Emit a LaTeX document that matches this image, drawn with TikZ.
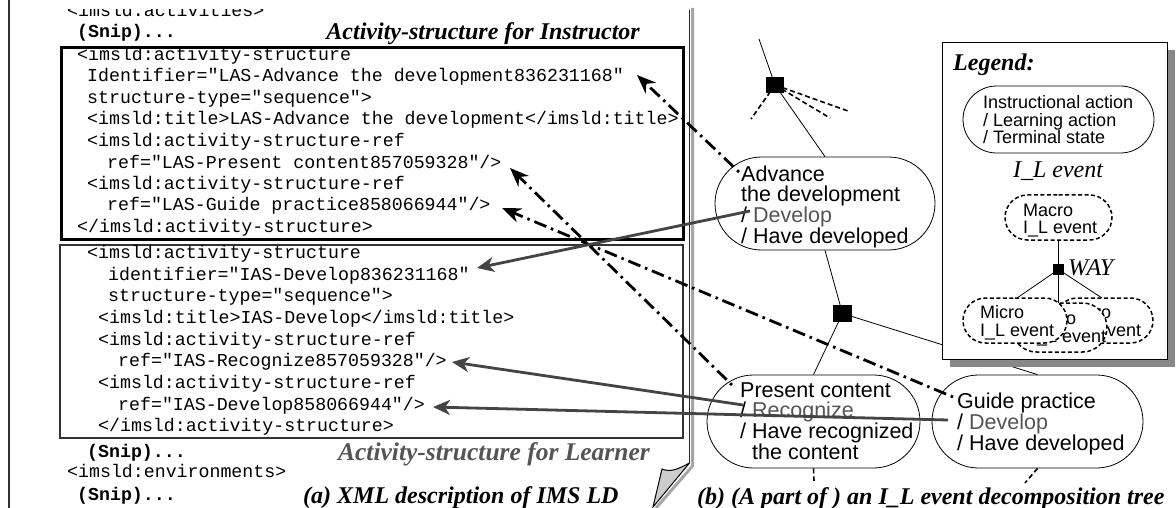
\documentclass[tikz,border=0pt]{standalone}
\usepackage{fontspec}
\setmainfont{Liberation Serif}
\setsansfont{Liberation Sans}
\newfontfamily\codefont{Liberation Mono}
\usetikzlibrary{arrows.meta,shapes.misc}
\definecolor{gtxt}{HTML}{555555}
\definecolor{gline}{HTML}{444444}
\definecolor{shadowgray}{HTML}{888888}
\definecolor{curlgray}{HTML}{CCCCCC}
\begin{document}
\begin{tikzpicture}[x=1pt,y=-1pt,
 code/.style={font=\codefont\fontsize{18.25}{21.5}\selectfont, inner sep=0, anchor=base west},
 codeb/.style={font=\codefont\bfseries\fontsize{18.25}{21.5}\selectfont, inner sep=0, anchor=base west},
 ttl/.style={font=\bfseries\itshape\fontsize{24}{28}\selectfont, inner sep=0},
 evtxt/.style={font=\sffamily\fontsize{21.5}{20}\selectfont, align=left, inner sep=0, anchor=north west},
 lgtxt/.style={font=\sffamily\fontsize{18}{17.5}\selectfont, align=left, inner sep=0, anchor=north west},
 stad/.style={rounded rectangle, draw, fill=white, line width=0.8pt, inner sep=0},
 dstad/.style={rounded rectangle, draw, fill=white, line width=1.5pt, dash pattern=on 4pt off 2.5pt, inner sep=0},
 sq/.style={rectangle, fill=black, inner sep=0},
 dd/.style={line width=2.8pt, dash pattern=on 2.5pt off 5pt on 13pt off 5pt, -{Stealth[length=19pt,width=15pt]}},
 gr/.style={line width=2.8pt, draw=gline, -{Stealth[length=17pt,width=15pt,inset=5pt]}},
 tree/.style={line width=0.8pt},
 treed/.style={line width=1.6pt, dash pattern=on 5pt off 3pt},
]
\useasboundingbox (0,0) rectangle (1176,508);
\fill[white] (0,0) rectangle (1176,508);

% ---------- left page ----------
\draw[line width=1.5pt, draw=black!80] (9,0) -- (9,508);
\draw[line width=3pt, draw=black!35] (692.5,8) -- (692.5,466) -- (656,508);
\draw[line width=1.3pt, draw=black!85] (689.5,10) -- (689.5,463);
\filldraw[fill=curlgray, draw=black, line width=1pt] (689.5,463) -- (653,507) -- (662,469) .. controls (671,473) and (680,468) .. (689.5,463);

\node[draw, line width=2.8pt, minimum width=622pt, minimum height=192pt, inner sep=0, anchor=north west] (box1) at (60,46) {};
\node[draw=black!80, line width=2.4pt, minimum width=623pt, minimum height=193pt, inner sep=0, anchor=north west] (box2) at (59,244) {};

\begin{scope}
\clip (0,9.5) rectangle (680,30);
\node[code] (l0) at (67,16.5) {<imsld:activities>};
\end{scope}
\node[codeb] (l1) at (77,38) {(Snip)...};
\node[code] (a1) at (77,60.5) {<imsld:activity-structure};
\node[code] (a2) at (87,82) {Identifier="LAS-Advance the development836231168"};
\node[code] (a3) at (87,103.5) {structure-type="sequence">};
\node[code] (a4) at (87,125) {<imsld:title>LAS-Advance the development</imsld:title>};
\node[code] (a5) at (87,146.5) {<imsld:activity-structure-ref};
\node[code] (a6) at (107,168) {ref="LAS-Present content857059328"/>};
\node[code] (a7) at (87,189.5) {<imsld:activity-structure-ref};
\node[code] (a8) at (107,211) {ref="LAS-Guide practice858066944"/>};
\node[code] (a9) at (77,232.5) {</imsld:activity-structure>};

\node[code] (b1) at (87,258.5) {<imsld:activity-structure};
\node[code] (b2) at (108,280.2) {identifier="IAS-Develop836231168"};
\node[code] (b3) at (108,301.8) {structure-type="sequence">};
\node[code] (b4) at (98,323.5) {<imsld:title>IAS-Develop</imsld:title>};
\node[code] (b5) at (98,345.1) {<imsld:activity-structure-ref};
\node[code] (b6) at (118,366.8) {ref="IAS-Recognize857059328"/>};
\node[code] (b7) at (98,388.4) {<imsld:activity-structure-ref};
\node[code] (b8) at (118,410.1) {ref="IAS-Develop858066944"/>};
\node[code] (b9) at (98,431.7) {</imsld:activity-structure>};

\node[codeb] (l2) at (87,457) {(Snip)...};
\node[code] (l3) at (67,477) {<imsld:environments>};
\node[codeb] (l4) at (77,500) {(Snip)...};

\node[ttl, anchor=base east] (t1) at (640,40) {Activity-structure for Instructor};
\node[ttl, anchor=base east, text=gtxt, font=\bfseries\itshape\fontsize{25.5}{28}\selectfont] (t2) at (650,460) {Activity-structure for Learner};
\node[ttl, anchor=base west] (t3) at (303,503) {(a) XML description of IMS LD};

% ---------- tree ----------
\node[stad, minimum width=220pt, minimum height=93pt] (adv) at (825,203.5) {};
\node[stad, minimum width=213pt, minimum height=93pt] (pres) at (813.5,421.5) {};
\node[stad, minimum width=211pt, minimum height=93pt] (guide) at (1037.5,421.5) {};
\node[sq, minimum width=18pt, minimum height=16pt] (s1) at (775,85) {};
\node[sq, minimum width=19pt, minimum height=17pt] (s2) at (842.5,313.5) {};
\coordinate (ttop) at (759,39);
\coordinate (d1) at (751,119);
\coordinate (d2) at (830,118);
\coordinate (d3) at (848,111);
\coordinate (pb) at (814,481);
\coordinate (gb) at (1025,483);
\draw[tree] (ttop) -- (s1.center);
\draw[tree] (s1.center) -- (adv.north);
\draw[tree] (adv.south) -- (s2.center);
\draw[tree] (s2.center) -- (pres.north);
\draw[tree] (s2.center) -- (guide.north);
\draw[treed] (s1.center) -- (d1);
\draw[treed] (s1.center) -- (d2);
\draw[treed] (s1.center) -- (d3);
\draw[treed] (pres.south) -- (pb);
\draw[treed] (guide.south) -- (gb);

\node[evtxt] (advt) at (741,165.5) {Advance\\the development\\/ \textcolor{gtxt}{Develop}\\/ Have developed};
\node[evtxt] (prest) at (740,382.5) {Present content\\/ \textcolor{gtxt}{Recognize}\\/ Have recognized\\\hspace*{12pt}the content};
\node[evtxt] (guidet) at (957,392.5) {Guide practice\\/ \textcolor{gtxt}{Develop}\\/ Have developed};

\node[ttl, anchor=base west] (t4) at (697,504) {(b) (A part of ) an I\_L event decomposition tree};

% ---------- legend ----------
\fill[shadowgray] (950,50) rectangle (1175,367);
\node[draw, fill=white, line width=0.8pt, anchor=north west, minimum width=225pt, minimum height=317pt, inner sep=0] (legbox) at (942,42) {};
\node[ttl, anchor=base west] (legt) at (953,71) {Legend:};
\node[stad, minimum width=191pt, minimum height=67pt] (lgst) at (1058.5,119.5) {};
\node[lgtxt] (lgstt) at (983,95.5) {Instructional action\\/ Learning action\\/ Terminal state};
\node[anchor=base, inner sep=0, font=\itshape\fontsize{24}{28}\selectfont] (ile) at (1058,178) {I\_L event};
\node[dstad, minimum width=107pt, minimum height=45pt] (macro) at (1058.5,217.5) {};
\node[lgtxt] (macrot) at (1023,203.5) {Macro\\I\_L event};
\node[sq, minimum width=11pt, minimum height=11pt] (s3) at (1058.5,269.5) {};
\node[anchor=base west, inner sep=0, font=\itshape\fontsize{24}{28}\selectfont] (way) at (1068,275) {WAY};
\coordinate (m1) at (1017,298);
\coordinate (m2) at (1058.5,305);
\coordinate (m3) at (1102,298);
\draw[tree] (macro.south) -- (s3.center);
\draw[tree] (s3.center) -- (m1);
\draw[tree] (s3.center) -- (m2);
\draw[tree] (s3.center) -- (m3);
\node[dstad, minimum width=98pt, minimum height=45pt] (micr) at (1104,320.5) {};
\node[lgtxt] (micrt) at (1067,305.5) {Micro\\I\_L event};
\node[dstad, minimum width=95pt, minimum height=49pt] (micm) at (1059.5,327.5) {};
\node[lgtxt] (micmt) at (1032,311.5) {Micro\\I\_L event};
\node[dstad, minimum width=104pt, minimum height=45pt] (micl) at (1015,320.5) {};
\node[lgtxt] (miclt) at (980,305.5) {Micro\\I\_L event};

% ---------- connectors ----------
\coordinate (advdot) at (739,172);
\coordinate (presdot) at (732,385);
\coordinate (guidedot) at (953,397);
\coordinate (tipA) at (637,75);
\coordinate (tipB) at (510,168);
\coordinate (tipC) at (502,208);
\coordinate (advdev) at (750,211);
\coordinate (presrec) at (743,405);
\coordinate (guidedev) at (948,420);
\coordinate (tipD) at (477,268);
\coordinate (tipE) at (452,362);
\coordinate (tipF) at (433,407);
\draw[dd] (advdot) -- (tipA);
\draw[dd] (presdot) -- (tipB);
\draw[dd] (guidedot) -- (tipC);
\draw[gr] (advdev) -- (tipD);
\draw[gr] (presrec) -- (tipE);
\draw[gr] (guidedev) -- (tipF);
\end{tikzpicture}
\end{document}
